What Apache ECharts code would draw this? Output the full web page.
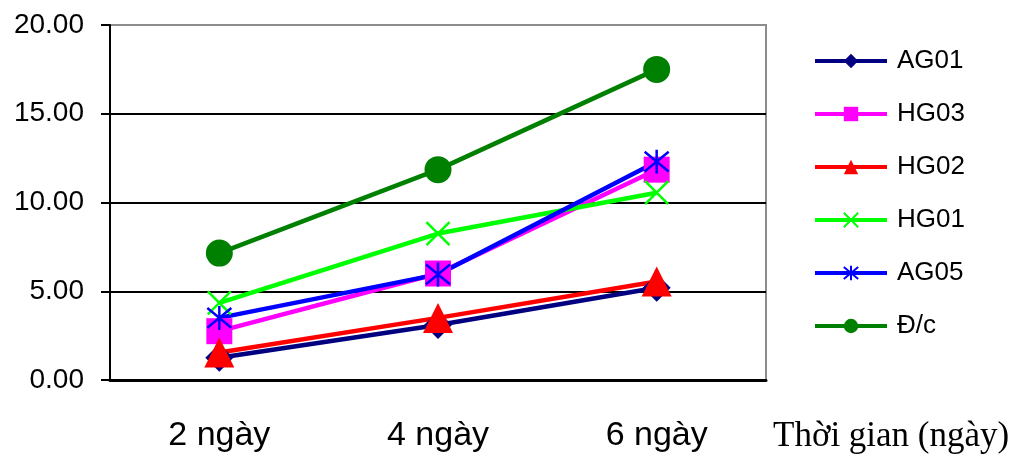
<!DOCTYPE html>
<html>
<head>
<meta charset="utf-8">
<script src="https://cdn.jsdelivr.net/npm/echarts@6/dist/echarts.min.js"></script>
<style>
  html, body { margin: 0; padding: 0; background: #ffffff; }
  #chart { width: 1016px; height: 457px; }
</style>
</head>
<body>
<div id="chart"></div>
<script>
// Categories (time points) and measured values per sample
const categories = ['2 ngày', '4 ngày', '6 ngày'];
const seriesNames = ['AG01', 'HG03', 'HG02', 'HG01', 'AG05', 'Đ/c'];
const AG01 = [1.25, 3.1, 5.2];
const HG03 = [2.75, 6.0, 11.85];
const HG02 = [1.55, 3.5, 5.55];
const HG01 = [4.35, 8.25, 10.55];
const AG05 = [3.5, 5.95, 12.3];
const DC = [7.15, 11.85, 17.5];
const yTicks = { min: 0, max: 20, interval: 5 };
const xAxisTitle = 'Thời gian (ngày)';

const SANS = 'Liberation Sans, Arial, sans-serif';
const SERIF = 'Liberation Serif, Times New Roman, serif';

// Stroke-only marker shapes
const STAR = 'path://M5,0L5,10M0.6,0.9L9.4,9.1M9.4,0.9L0.6,9.1';
const CROSS = 'path://M0,0L10,10M10,0L0,10';

function lineSeries(name, data, color, symbol, size, strokeOnly) {
  return {
    name: name,
    type: 'line',
    data: data,
    symbol: symbol,
    symbolSize: size,
    showSymbol: true,
    lineStyle: { color: color, width: 4.5 },
    itemStyle: strokeOnly
      ? { color: color, borderColor: color, borderWidth: 2.5 }
      : { color: color, borderWidth: 0 },
    emphasis: { disabled: true },
    animation: false
  };
}

const chart = echarts.init(document.getElementById('chart'), null, { renderer: 'canvas' });

chart.setOption({
  backgroundColor: '#ffffff',
  animation: false,
  grid: {
    left: 110, top: 25, width: 656, height: 355,
    show: true, backgroundColor: '#ffffff',
    borderColor: '#8c8c8c', borderWidth: 2
  },
  legend: {
    orient: 'vertical',
    left: 808, top: 43,
    itemWidth: 72, itemHeight: 18, itemGap: 27,
    lineStyle: { width: 4 },
    textStyle: { fontFamily: SANS, fontSize: 26, color: '#000000', padding: [0, 0, 0, 5] },
    data: seriesNames
  },
  xAxis: {
    type: 'category',
    data: categories,
    boundaryGap: true,
    axisLine: { lineStyle: { color: '#000000', width: 3 } },
    axisTick: { show: false },
    axisLabel: { fontFamily: SANS, fontSize: 34, color: '#000000', margin: 39 },
    splitLine: { show: false }
  },
  yAxis: {
    type: 'value',
    min: yTicks.min, max: yTicks.max, interval: yTicks.interval,
    axisLine: { show: true, lineStyle: { color: '#000000', width: 2 } },
    axisTick: { show: true, inside: false, length: 9, lineStyle: { color: '#000000', width: 2 } },
    axisLabel: {
      fontFamily: SANS, fontSize: 28, color: '#000000', margin: 26,
      formatter: function (v) { return v.toFixed(2); }
    },
    splitLine: { show: true, showMinLine: false, showMaxLine: false, lineStyle: { color: '#000000', width: 2 } }
  },
  graphic: [{
    type: 'text',
    left: 773, top: 419,
    style: { text: xAxisTitle, font: '35px ' + SERIF, fill: '#000000' }
  }],
  series: [
    lineSeries('AG01', AG01, '#000080', 'diamond', 28, false),
    lineSeries('HG03', HG03, '#ff00ff', 'rect', 26, false),
    lineSeries('HG02', HG02, '#ff0000', 'triangle', 30, false),
    lineSeries('HG01', HG01, '#00ff00', CROSS, 23, true),
    lineSeries('AG05', AG05, '#0000ff', STAR, 24, true),
    lineSeries('Đ/c', DC, '#008000', 'circle', 27, false)
  ]
});
</script>
</body>
</html>
